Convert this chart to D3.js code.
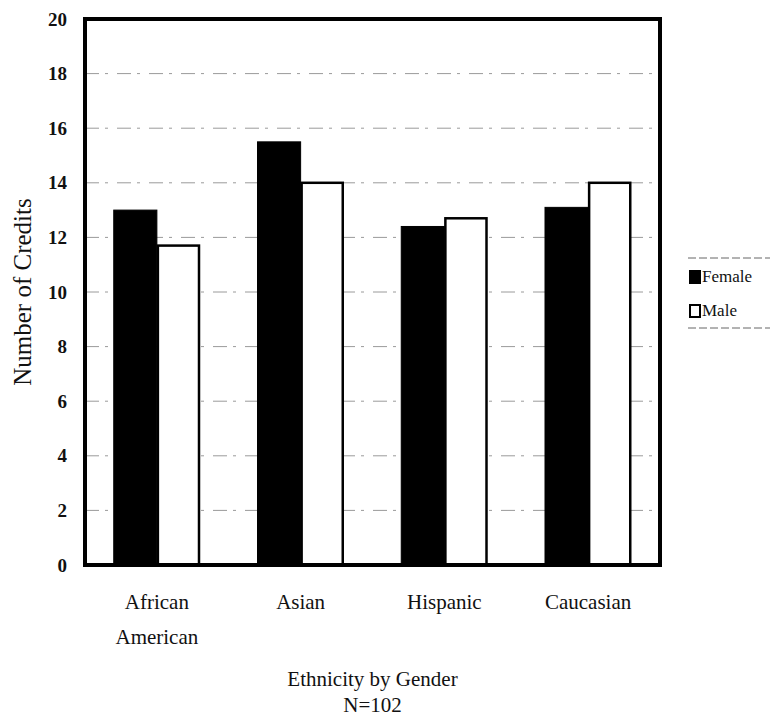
<!DOCTYPE html>
<html>
<head>
<meta charset="utf-8">
<script src="https://cdn.jsdelivr.net/npm/d3@7/dist/d3.min.js"></script>
<style>
  body { margin: 0; background: #fff; }
  svg text { font-family: "Liberation Serif", "Times New Roman", serif; fill: #111; }
</style>
</head>
<body>
<svg id="chart" width="770" height="718"></svg>
<script>
// Credits by ethnicity and gender
const categories = ["African American", "Asian", "Hispanic", "Caucasian"];
const categoryLines = [["African", "American"], ["Asian"], ["Hispanic"], ["Caucasian"]];
const series = ["Female", "Male"];
const femaleValues = [13.0, 15.5, 12.4, 13.1];
const maleValues = [11.7, 14.0, 12.7, 14.0];
const yTicks = [0, 2, 4, 6, 8, 10, 12, 14, 16, 18, 20];

const svg = d3.select("#chart");
const m = { left: 85, right: 660, top: 19, bottom: 565 };

const x = d3.scaleBand().domain(categories).range([m.left, m.right]).paddingInner(0.4).paddingOuter(0.2);
const xs = d3.scaleBand().domain(series).range([0, x.bandwidth()]);
const y = d3.scaleLinear().domain([0, 20]).range([m.bottom, m.top]);

// gridlines
svg.append("g").selectAll("line").data(yTicks.filter(t => t > 0 && t < 20)).join("line")
  .attr("x1", m.left).attr("x2", m.right)
  .attr("y1", d => y(d)).attr("y2", d => y(d))
  .attr("stroke", "#9a9a9a").attr("stroke-width", 1)
  .attr("stroke-dasharray", "14,6,3,9");

// y tick labels
const yAxis = svg.append("g")
  .attr("transform", `translate(${m.left - 4},0)`)
  .call(d3.axisLeft(y).tickValues(yTicks).tickSize(0).tickPadding(14));
yAxis.select(".domain").remove();
yAxis.attr("font-family", null).attr("font-size", null);
yAxis.selectAll("text")
  .style("font-family", '"Liberation Serif", serif')
  .style("font-size", "19px")
  .style("font-weight", "bold")
  .style("fill", "#111");

const rows = categories.map((c, i) => ({ c, vals: [femaleValues[i], maleValues[i]] }));

const grp = svg.append("g").selectAll("g").data(rows).join("g")
  .attr("transform", d => `translate(${x(d.c)},0)`);

grp.selectAll("rect").data(d => d.vals.map((v, j) => ({ s: series[j], v }))).join("rect")
  .attr("x", d => xs(d.s) + (d.s === "Male" ? 1 : 0))
  .attr("y", d => y(d.v))
  .attr("width", d => xs.bandwidth() - (d.s === "Male" ? 2 : 0))
  .attr("height", d => y(0) - y(d.v))
  .attr("fill", d => d.s === "Female" ? "#000" : "#fff")
  .attr("stroke", "#000")
  .attr("stroke-width", d => d.s === "Female" ? 1 : 2.5);

// plot frame
svg.append("rect")
  .attr("x", m.left).attr("y", m.top)
  .attr("width", m.right - m.left).attr("height", m.bottom - m.top)
  .attr("fill", "none").attr("stroke", "#000").attr("stroke-width", 4);

// category labels
const xl = svg.append("g").selectAll("text").data(categories).join("text")
  .attr("x", d => x(d) + x.bandwidth() / 2)
  .attr("y", 609)
  .attr("text-anchor", "middle")
  .style("font-size", "21px");
xl.selectAll("tspan").data((d, i) => categoryLines[i]).join("tspan")
  .attr("x", function () { return d3.select(this.parentNode).attr("x"); })
  .attr("dy", (d, i) => i === 0 ? 0 : 35)
  .text(d => d);

// axis titles
const cx = (m.left + m.right) / 2;
svg.append("text").attr("x", cx).attr("y", 686).attr("text-anchor", "middle")
  .style("font-size", "21px").text("Ethnicity by Gender");
svg.append("text").attr("x", cx).attr("y", 712).attr("text-anchor", "middle")
  .style("font-size", "21px").text("N=102");
svg.append("text")
  .attr("transform", `translate(31,${(m.top + m.bottom) / 2}) rotate(-90)`)
  .attr("text-anchor", "middle")
  .style("font-size", "25px").text("Number of Credits");

// legend
const lg = svg.append("g");
lg.append("line").attr("x1", 688).attr("x2", 770).attr("y1", 258).attr("y2", 258)
  .attr("stroke", "#666").attr("stroke-dasharray", "8,3");
lg.append("line").attr("x1", 688).attr("x2", 770).attr("y1", 328).attr("y2", 328)
  .attr("stroke", "#666").attr("stroke-dasharray", "8,3");
series.forEach((s, i) => {
  const yy = 277 + i * 34;
  lg.append("rect").attr("x", 690).attr("y", yy - 6).attr("width", 10).attr("height", 12)
    .attr("fill", s === "Female" ? "#000" : "#fff").attr("stroke", "#000").attr("stroke-width", 2);
  lg.append("text").attr("x", 702).attr("y", yy + 5).style("font-size", "17px").text(s);
});
</script>
</body>
</html>
